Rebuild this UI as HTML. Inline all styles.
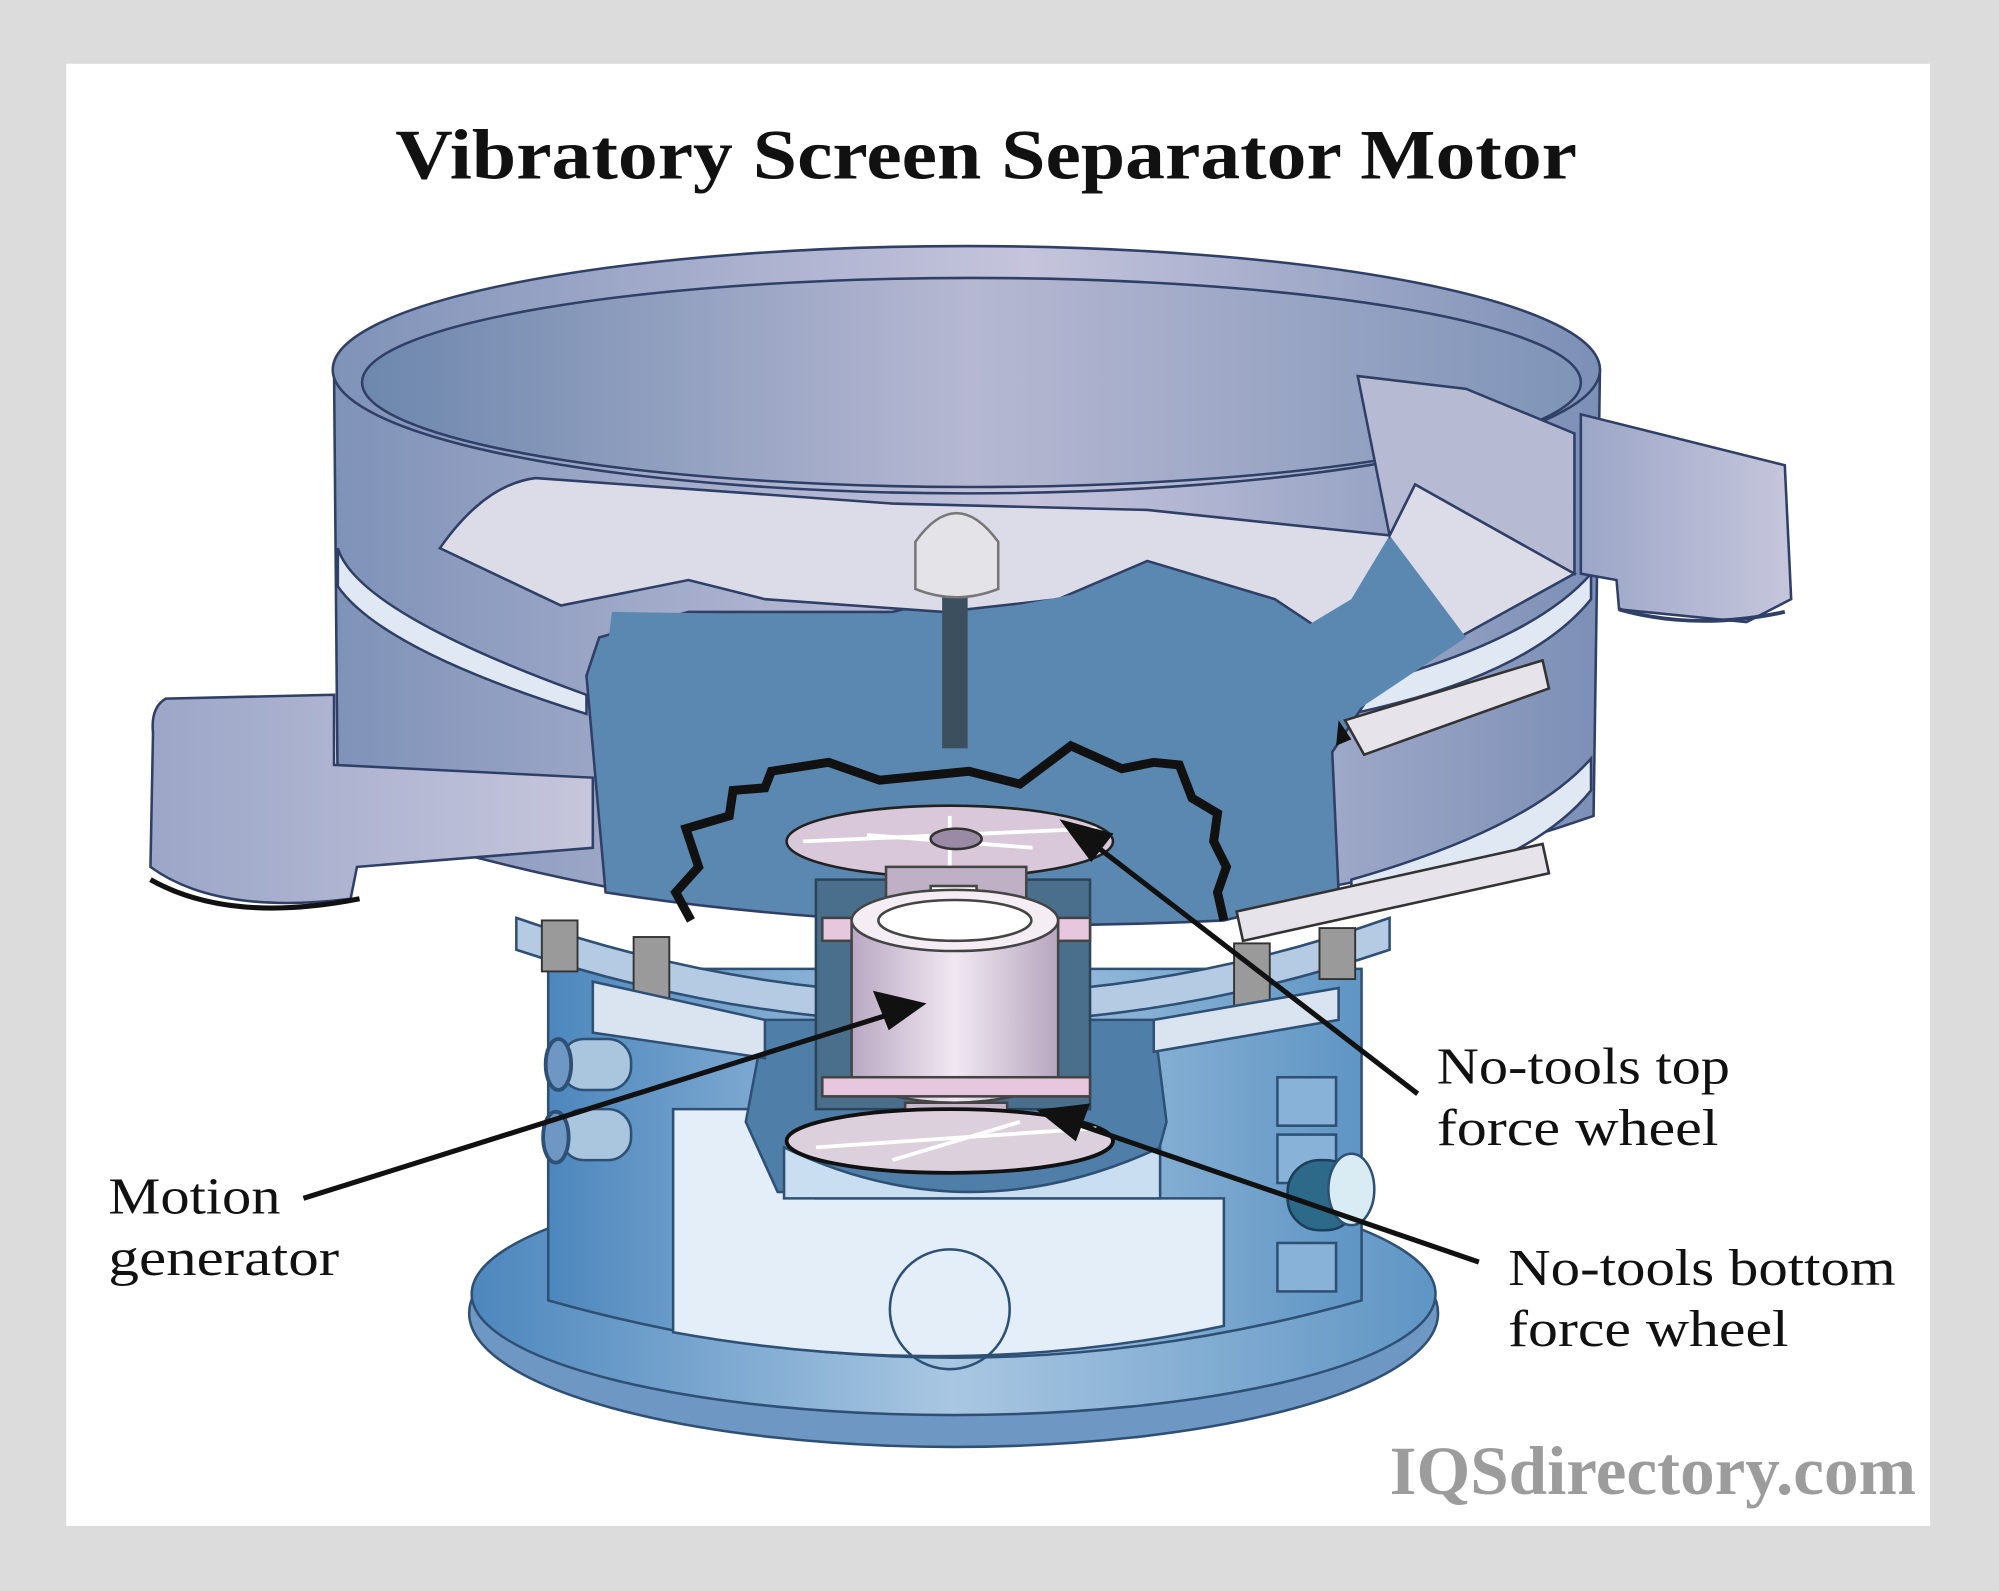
<!DOCTYPE html>
<html><head><meta charset="utf-8"><style>
html,body{margin:0;padding:0;background:#dcdcdc;}
svg{display:block}
</style></head><body>
<svg width="1999" height="1591" viewBox="0 0 1568 1248" xmlns="http://www.w3.org/2000/svg">
<defs>
<linearGradient id="drum" x1="0" x2="1" y1="0" y2="0">
<stop offset="0" stop-color="#7f92b8"/><stop offset="0.35" stop-color="#aeb3d0"/><stop offset="0.55" stop-color="#c5c4dc"/><stop offset="1" stop-color="#7c8fb6"/></linearGradient>
<linearGradient id="inner" x1="0" x2="1"><stop offset="0" stop-color="#6d87ad"/><stop offset="0.5" stop-color="#b6b8d2"/><stop offset="1" stop-color="#7f94b8"/></linearGradient>
<linearGradient id="base" x1="0" x2="1"><stop offset="0" stop-color="#4d87bd"/><stop offset="0.5" stop-color="#a9c7e2"/><stop offset="1" stop-color="#5f95c4"/></linearGradient>
<linearGradient id="motor" x1="0" x2="1"><stop offset="0" stop-color="#b9a8c2"/><stop offset="0.5" stop-color="#f1e8f2"/><stop offset="1" stop-color="#b7a6c0"/></linearGradient>
<linearGradient id="spout" x1="0" x2="1"><stop offset="0" stop-color="#9ca6c8"/><stop offset="1" stop-color="#c6c6dc"/></linearGradient>
</defs>
<rect x="0" y="0" width="1568" height="1248" fill="#dcdcdc"/>
<rect x="52" y="50" width="1462" height="1147" fill="#ffffff"/>
<text x="310" y="140" textLength="927" lengthAdjust="spacingAndGlyphs" font-family="Liberation Serif, serif" font-weight="bold" font-size="56" fill="#111">Vibratory Screen Separator Motor</text>

<ellipse cx="748" cy="1030" rx="380" ry="105" fill="#6f97c3" stroke="#2f5075" stroke-width="2"/>
<ellipse cx="748" cy="1015" rx="378" ry="95" fill="url(#base)" stroke="#2f5075" stroke-width="2"/>
<path d="M430 760 L430 1020 Q748 1110 1068 1020 L1068 760 Z" fill="url(#base)" stroke="#2f5075" stroke-width="2"/>
<path d="M528 870 L640 870 L640 940 L960 940 L960 1040 Q748 1085 528 1045 Z" fill="#e4eef8" stroke="#2f5075" stroke-width="2"/>
<circle cx="745" cy="1027" r="47" fill="none" stroke="#2f5075" stroke-width="2"/>
<rect x="1002" y="845" width="46" height="38" fill="#88b2d8" stroke="#2f5075" stroke-width="2"/>
<rect x="1002" y="890" width="46" height="38" fill="#88b2d8" stroke="#2f5075" stroke-width="2"/>
<rect x="1002" y="975" width="46" height="38" fill="#88b2d8" stroke="#2f5075" stroke-width="2"/>
<rect x="440" y="815" width="55" height="40" rx="18" fill="#a9c6de" stroke="#2f5075" stroke-width="2"/>
<rect x="440" y="870" width="55" height="40" rx="18" fill="#a9c6de" stroke="#2f5075" stroke-width="2"/>
<ellipse cx="438" cy="835" rx="10" ry="20" fill="#6f97c3" stroke="#2f5075" stroke-width="3"/>
<ellipse cx="436" cy="892" rx="10" ry="20" fill="#6f97c3" stroke="#2f5075" stroke-width="3"/>
<rect x="1010" y="910" width="55" height="55" rx="25" fill="#2d6a8a" stroke="#1c3e58" stroke-width="2"/>
<ellipse cx="1060" cy="933" rx="18" ry="28" fill="#d9ecf4" stroke="#2f5075" stroke-width="2"/>
<path d="M600 800 L585 880 L610 935 L900 935 L915 880 L905 800 Z" fill="#4f7fa8" stroke="#2f5075" stroke-width="2"/>
<path d="M615 900 Q760 970 910 900 L910 940 L615 940 Z" fill="#c9def0" stroke="#2f5075" stroke-width="2"/>
<path d="M405 720 Q750 840 1090 720 L1090 745 Q750 860 405 745 Z" fill="#b5cbe3" stroke="#2f5075" stroke-width="2"/>
<g fill="#9a9a9a" stroke="#333" stroke-width="1.5">
<rect x="425" y="722" width="28" height="40"/><rect x="497" y="735" width="28" height="60"/>
<rect x="968" y="740" width="28" height="55"/><rect x="1035" y="728" width="28" height="40"/>
</g>
<path d="M465 770 L600 800 L600 830 L465 810 Z" fill="#d9e4f0" stroke="#2f5075" stroke-width="2"/>
<path d="M905 800 L1050 775 L1050 800 L905 825 Z" fill="#d9e4f0" stroke="#2f5075" stroke-width="2"/>

<path d="M262 290 L265 640 Q500 720 760 725 Q1020 720 1250 640 L1255 290 Z" fill="url(#drum)" stroke="#2f3f66" stroke-width="2"/>
<ellipse cx="758" cy="290" rx="497" ry="97" fill="url(#drum)" stroke="#2f3f66" stroke-width="2"/>
<ellipse cx="762" cy="300" rx="478" ry="82" fill="url(#inner)" stroke="#2f3f66" stroke-width="2"/>
<path d="M265 430 Q280 480 460 545 L460 560 Q300 510 265 460 Z" fill="#dfe8f3" stroke="#2f3f66" stroke-width="2"/>
<path d="M1060 540 Q1200 505 1248 450 L1248 470 Q1200 530 1060 560 Z" fill="#dfe8f3" stroke="#2f3f66" stroke-width="2"/>
<path d="M1060 690 Q1200 650 1248 595 L1248 620 Q1200 680 1060 712 Z" fill="#dfe8f3" stroke="#2f3f66" stroke-width="2"/>
<path d="M470 500 L460 530 L475 700 Q700 735 960 722 L1050 700 L1045 590 L1085 530 L1060 470 L900 430 L700 480 L540 480 Z" fill="#5b88b0" stroke="#2f3f66" stroke-width="2"/>
<path d="M345 430 Q380 380 420 375 L700 395 L900 400 L1090 420 L1110 380 L1235 450 L1090 530 L1000 470 L900 440 L830 470 L740 480 L600 470 L540 455 L440 475 Z" fill="#dcdbe8" stroke="#2f3f66" stroke-width="2"/>
<path d="M480 480 L750 484 L900 455 L1010 500 L1060 470 L1090 420 L1150 500 L1060 560 L470 560 Z" fill="#5b88b0"/>
<path d="M1065 295 L1150 305 L1235 340 L1235 450 L1110 380 L1090 420 Z" fill="#b7bad3" stroke="#2f3f66" stroke-width="2"/>
<path d="M1055 565 L1210 518 L1215 540 L1070 592 Z" fill="#e6e4ea" stroke="#333" stroke-width="2"/>
<path d="M970 715 L1210 662 L1215 685 L975 738 Z" fill="#e6e4ea" stroke="#333" stroke-width="2"/>
<path d="M1050 565 L1060 580 L1048 585 Z" fill="#111"/>
<rect x="739" y="465" width="20" height="122" fill="#3b4f5f"/>
<path d="M718 425 Q750 380 783 425 L783 462 Q750 475 718 462 Z" fill="#e4e4e8" stroke="#777" stroke-width="2"/>
<path d="M1240 325 L1400 365 L1405 470 L1370 488 L1270 478 L1268 455 L1240 450 Z" fill="url(#spout)" stroke="#2f3f66" stroke-width="2"/>
<path d="M1270 478 Q1330 495 1400 480" fill="none" stroke="#2f3f66" stroke-width="3"/>
<path d="M262 545 L130 548 Q118 555 120 575 L118 680 Q170 718 275 705 L280 680 L465 665 L465 610 L262 600 Z" fill="url(#spout)" stroke="#2f3f66" stroke-width="2"/>
<path d="M118 690 Q180 725 282 705" fill="none" stroke="#111" stroke-width="4"/>
<path d="M542 722 L530 700 L548 680 L538 650 L572 640 L575 620 L600 618 L605 605 L650 598 L690 612 L760 605 L800 615 L840 585 L880 603 L905 598 L925 600 L935 626 L955 638 L952 660 L962 680 L955 700 L960 722" fill="none" stroke="#111" stroke-width="7" stroke-linejoin="miter"/>
<path d="M640 690 L855 690 L855 870 L640 870 Z" fill="#4a6f8d" stroke="#2a445a" stroke-width="2"/>
<ellipse cx="745" cy="660" rx="128" ry="28" fill="#d8c8da" stroke="#222" stroke-width="2"/>
<path d="M630 660 L860 650 M745 640 L745 680 M680 655 L810 665" stroke="#fff" stroke-width="3"/>
<ellipse cx="750" cy="658" rx="20" ry="8" fill="#9a8aa3" stroke="#333" stroke-width="2"/>
<rect x="695" y="680" width="110" height="45" fill="#bfb0c6" stroke="#444" stroke-width="2"/>
<rect x="730" y="695" width="36" height="28" fill="#fff" stroke="#444" stroke-width="2"/>
<rect x="645" y="720" width="210" height="18" fill="#e7c7de" stroke="#444" stroke-width="2"/>
<path d="M668 720 L668 850 Q748 880 830 850 L830 720 Z" fill="url(#motor)" stroke="#444" stroke-width="2"/>
<ellipse cx="749" cy="722" rx="81" ry="24" fill="#f4edf4" stroke="#444" stroke-width="2"/>
<ellipse cx="749" cy="722" rx="60" ry="16" fill="#fff" stroke="#444" stroke-width="2"/>
<rect x="645" y="845" width="210" height="15" fill="#e7c7de" stroke="#444" stroke-width="2"/>
<rect x="710" y="865" width="80" height="30" fill="#c8b8cc" stroke="#444" stroke-width="2"/>
<ellipse cx="745" cy="895" rx="128" ry="25" fill="#dcd0dd" stroke="#111" stroke-width="3"/>
<path d="M640 900 L860 885 M700 910 L800 880" stroke="#fff" stroke-width="3"/>

<g stroke="#111" stroke-width="4" fill="#111">
<line x1="238" y1="940" x2="700" y2="795"/>
<polygon points="722,788 688,780 698,805"/>
<line x1="1112" y1="858" x2="855" y2="660"/>
<polygon points="836,646 870,655 856,673"/>
<line x1="1160" y1="990" x2="840" y2="880"/>
<polygon points="818,872 852,868 843,892"/>
</g>
<g font-family="Liberation Serif, serif" font-size="41" fill="#111" lengthAdjust="spacingAndGlyphs">
<text x="85" y="952" textLength="135" lengthAdjust="spacingAndGlyphs">Motion</text>
<text x="85" y="1000" textLength="181" lengthAdjust="spacingAndGlyphs">generator</text>
<text x="1127" y="850" textLength="230" lengthAdjust="spacingAndGlyphs">No-tools top</text>
<text x="1127" y="898" textLength="221" lengthAdjust="spacingAndGlyphs">force wheel</text>
<text x="1183" y="1008" textLength="304" lengthAdjust="spacingAndGlyphs">No-tools bottom</text>
<text x="1183" y="1056" textLength="220" lengthAdjust="spacingAndGlyphs">force wheel</text>
</g>
<text x="1090" y="1172" textLength="413" lengthAdjust="spacingAndGlyphs" font-family="Liberation Serif, serif" font-weight="bold" font-size="54" fill="#9c9c9c">IQSdirectory.com</text>
</svg>
</body></html>
